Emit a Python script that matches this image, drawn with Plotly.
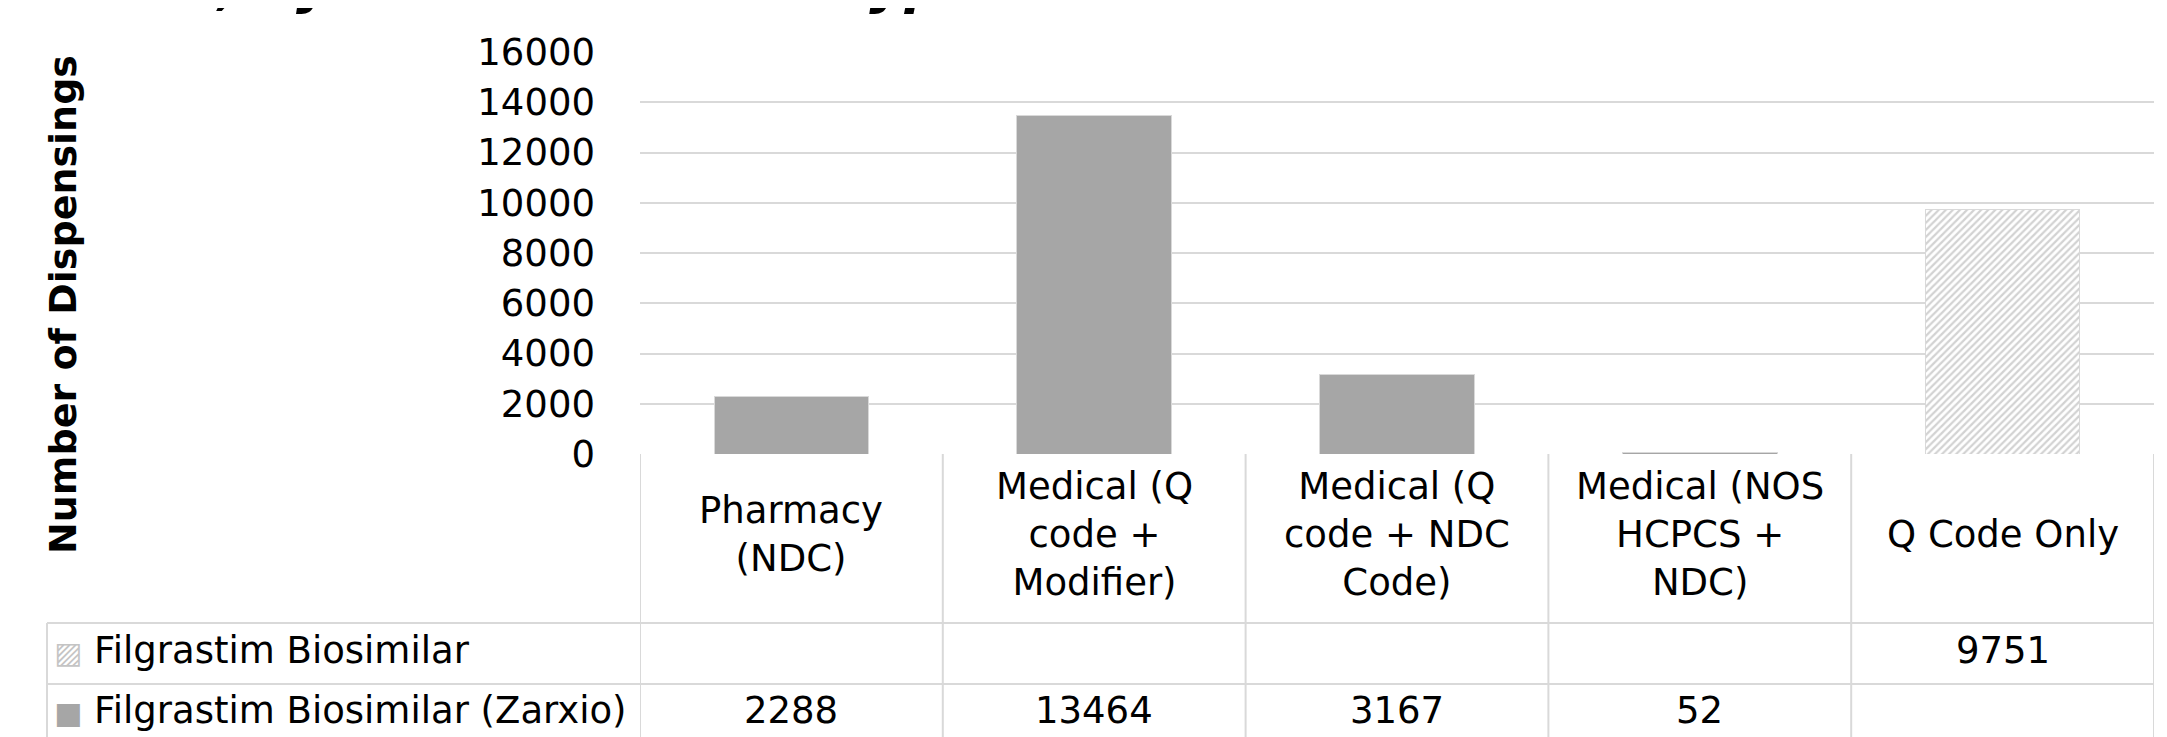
import plotly.graph_objects as go

# data
categories = ["Pharmacy (NDC)", "Medical (Q code + Modifier)", "Medical (Q code + NDC Code)",
              "Medical (NOS HCPCS + NDC)", "Q Code Only"]
category_labels = ["Pharmacy<br>(NDC)", "Medical (Q<br>code +<br>Modifier)",
                   "Medical (Q<br>code + NDC<br>Code)", "Medical (NOS<br>HCPCS +<br>NDC)",
                   "Q Code Only"]
series_names = ["Filgrastim Biosimilar", "Filgrastim Biosimilar (Zarxio)"]
biosimilar = [None, None, None, None, 9751]
zarxio = [2288, 13464, 3167, 52, None]
y_ticks = [0, 2000, 4000, 6000, 8000, 10000, 12000, 14000, 16000]

W, H = 2167, 737
L, R, T, B = 632, 2146, 44, 446          # plot area in pixels
GREY = "#a6a6a6"
LINE = "#d9d9d9"
FONT = "DejaVu Sans, Verdana, sans-serif"


def py(px):
    """pixel row -> paper y"""
    return (B - px) / (B - T)


def pxx(px):
    """pixel column -> paper x"""
    return (px - L) / (R - L)


fig = go.Figure()
fig.add_trace(go.Bar(
    x=categories, y=biosimilar, name=series_names[0],
    marker=dict(color=GREY, line=dict(color=LINE, width=1),
                pattern=dict(shape="/", size=5, solidity=0.45,
                             fgcolor=GREY, bgcolor="white")),
))
fig.add_trace(go.Bar(
    x=categories, y=zarxio, name=series_names[1],
    marker=dict(color=GREY, line=dict(color=LINE, width=1)),
))

# table rows (pixel rows)
row_cat = (B, 615)
row_1 = (615, 676)
row_2 = (676, 735)

shapes = []
for y0 in (row_cat[1], row_1[1], row_2[1]):
    shapes.append(dict(type="line", xref="paper", yref="paper",
                       x0=pxx(39), x1=1, y0=py(y0), y1=py(y0),
                       line=dict(color=LINE, width=2)))
for i in range(len(categories) + 1):
    shapes.append(dict(type="line", xref="x", yref="paper",
                       x0=i - 0.5, x1=i - 0.5, y0=py(row_cat[0]), y1=py(row_2[1]),
                       line=dict(color=LINE, width=2)))
shapes.append(dict(type="line", xref="paper", yref="paper",
                   x0=pxx(39), x1=pxx(39), y0=py(row_1[0]), y1=py(row_2[1]),
                   line=dict(color=LINE, width=2)))

annotations = []
# category labels
for cat, lab in zip(categories, category_labels):
    annotations.append(dict(x=cat, xref="x", y=py(sum(row_cat) / 2 - 4), yref="paper",
                            text=lab, showarrow=False, xanchor="center", yanchor="middle",
                            font=dict(family=FONT, size=37, color="black")))
# value cells
for vals, row in ((biosimilar, row_1), (zarxio, row_2)):
    for cat, v in zip(categories, vals):
        if v is None:
            continue
        annotations.append(dict(x=cat, xref="x", y=py(sum(row) / 2 - 3), yref="paper",
                                text=str(v), showarrow=False, xanchor="center",
                                yanchor="middle",
                                font=dict(family=FONT, size=37, color="black")))
# legend keys + names
keys = ["<span style='color:#c4c4c4;font-size:30px'>▨</span> ",
        "<span style='color:#a6a6a6;font-size:30px'>■</span> "]
for key, name, row in zip(keys, series_names, (row_1, row_2)):
    annotations.append(dict(x=pxx(44), xref="paper", y=py(sum(row) / 2 - 3), yref="paper",
                            text=key + name, showarrow=False, xanchor="left",
                            yanchor="middle",
                            font=dict(family=FONT, size=37, color="black")))
# y axis title
annotations.append(dict(x=pxx(55), xref="paper", y=py(297), yref="paper",
                        text="<b>Number of Dispensings</b>", textangle=-90, showarrow=False,
                        xanchor="center", yanchor="middle",
                        font=dict(family=FONT, size=38, color="black")))
# chart title, mostly above the visible page
annotations.append(dict(x=pxx(-455), xref="paper", y=py(10), yref="paper",
                        text="<b><i>Filgrastim Biosimilars, by Claim and Code Type</i></b>",
                        showarrow=False, xanchor="left", yanchor="bottom",
                        font=dict(family=FONT, size=54, color="black")))

fig.update_layout(
    width=W, height=H,
    margin=dict(l=L, r=W - R, t=T, b=H - B),
    barmode="stack",
    bargap=0.49,
    showlegend=False,
    plot_bgcolor="white",
    paper_bgcolor="white",
    shapes=shapes,
    annotations=annotations,
    xaxis=dict(type="category", range=[-0.5, 4.5], showticklabels=False,
               showgrid=False, zeroline=False, showline=False),
    yaxis=dict(range=[0, 16000], tickvals=y_ticks, tickformat="d", showgrid=True,
               gridcolor=LINE, gridwidth=2, zeroline=False, showline=False,
               ticklabelstandoff=44,
               tickfont=dict(family=FONT, size=37, color="black")),
)

fig.write_html("out.html")
